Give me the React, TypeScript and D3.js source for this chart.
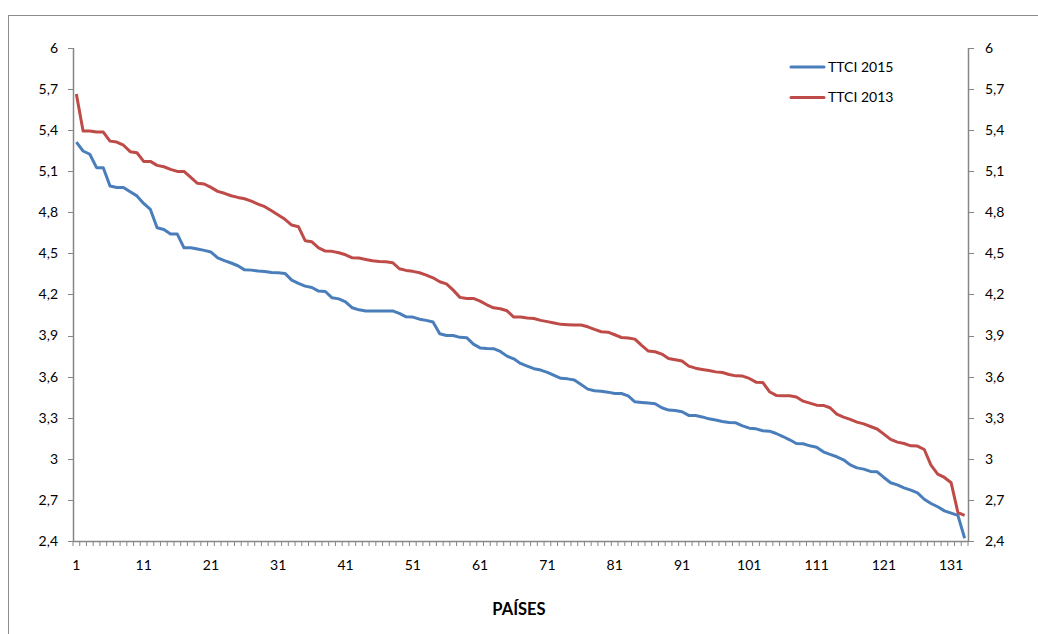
import React from "react";
import * as d3 from "d3";

const ttci2015: number[] = [
  5.313, 5.248, 5.224, 5.126, 5.126, 4.992, 4.982, 4.982, 4.95, 4.92,
  4.865, 4.821, 4.687, 4.675, 4.641, 4.641, 4.541, 4.541, 4.532, 4.522,
  4.51, 4.468, 4.448, 4.43, 4.41, 4.38, 4.378, 4.371, 4.368, 4.361,
  4.358, 4.354, 4.305, 4.281, 4.261, 4.251, 4.225, 4.222, 4.176, 4.168,
  4.147, 4.103, 4.088, 4.079, 4.079, 4.079, 4.08, 4.08, 4.062, 4.037,
  4.035, 4.02, 4.011, 3.999, 3.913, 3.901, 3.901, 3.887, 3.885, 3.838,
  3.81, 3.806, 3.804, 3.784, 3.75, 3.73, 3.697, 3.677, 3.658, 3.648,
  3.631, 3.609, 3.588, 3.584, 3.575, 3.543, 3.509, 3.497, 3.494, 3.487,
  3.477, 3.477, 3.46, 3.416, 3.411, 3.407, 3.402, 3.373, 3.356, 3.353,
  3.344, 3.317, 3.317, 3.306, 3.292, 3.283, 3.273, 3.266, 3.263, 3.241,
  3.224, 3.219, 3.205, 3.202, 3.185, 3.163, 3.139, 3.112, 3.11, 3.095,
  3.085, 3.051, 3.032, 3.015, 2.993, 2.956, 2.934, 2.925, 2.908, 2.905,
  2.864, 2.825, 2.81, 2.788, 2.771, 2.752, 2.705, 2.674, 2.65, 2.62,
  2.603, 2.587, 2.42,
];

const ttci2013: number[] = [
  5.664, 5.394, 5.394, 5.386, 5.386, 5.32, 5.313, 5.29, 5.243, 5.235,
  5.172, 5.172, 5.143, 5.133, 5.114, 5.099, 5.099, 5.055, 5.012, 5.007,
  4.982, 4.953, 4.939, 4.921, 4.909, 4.899, 4.882, 4.86, 4.841, 4.811,
  4.78, 4.749, 4.707, 4.695, 4.593, 4.585, 4.541, 4.517, 4.515, 4.505,
  4.49, 4.468, 4.466, 4.456, 4.446, 4.441, 4.439, 4.432, 4.388, 4.376,
  4.369, 4.359, 4.342, 4.322, 4.293, 4.278, 4.232, 4.179, 4.171, 4.171,
  4.152, 4.125, 4.103, 4.096, 4.081, 4.035, 4.035, 4.028, 4.025, 4.011,
  4.002, 3.992, 3.982, 3.98, 3.977, 3.977, 3.964, 3.945, 3.928, 3.925,
  3.906, 3.886, 3.882, 3.874, 3.828, 3.787, 3.782, 3.765, 3.733, 3.723,
  3.714, 3.677, 3.662, 3.653, 3.645, 3.635, 3.63, 3.616, 3.606, 3.604,
  3.587, 3.56, 3.558, 3.49, 3.463, 3.46, 3.46, 3.451, 3.421, 3.407,
  3.392, 3.39, 3.373, 3.326, 3.305, 3.288, 3.268, 3.255, 3.236, 3.218,
  3.18, 3.142, 3.122, 3.112, 3.095, 3.093, 3.068, 2.954, 2.888, 2.864,
  2.825, 2.608, 2.587,
];

const yTicks: number[] = [2.4, 2.7, 3, 3.3, 3.6, 3.9, 4.2, 4.5, 4.8, 5.1, 5.4, 5.7, 6];
const xTickLabels: number[] = [1, 11, 21, 31, 41, 51, 61, 71, 81, 91, 101, 111, 121, 131];
const seriesNames: string[] = ["TTCI 2015", "TTCI 2013"];
const colors: string[] = ["#4A7EBB", "#BE4B48"];

const W = 1038;
const H = 634;
const left = 73;
const right = 968;
const top = 48;
const bottom = 541;
const font = "Lato, 'Open Sans', sans-serif";

export default function App() {
  const n = ttci2015.length;
  const x = d3.scaleLinear().domain([0.5, n + 0.5]).range([left, right]);
  const y = d3.scaleLinear().domain([2.4, 6]).range([bottom, top]);
  const line = d3
    .line<number>()
    .x((_, i) => x(i + 1))
    .y((d) => y(d))
    .curve(d3.curveLinear);
  const idx = d3.range(0, n + 1);
  const axisColor = "#868686";
  const series = [ttci2015, ttci2013];
  const fmt = (v: number) => String(Math.round(v * 10) / 10).replace(".", ",");

  return (
    <svg
      width={W}
      height={H}
      style={{ position: "absolute", left: 0, top: 0, background: "#fff" }}
    >
      <rect x={8.5} y={15.5} width={W + 20} height={H + 20} fill="#fff" stroke="#8c8c8c" strokeWidth={1} />

      <line x1={left + 0.5} x2={left + 0.5} y1={top} y2={bottom} stroke={axisColor} strokeWidth={1.5} />
      <line x1={right + 0.5} x2={right + 0.5} y1={top} y2={bottom} stroke={axisColor} strokeWidth={1.5} />
      <line x1={left} x2={right + 1} y1={bottom + 0.5} y2={bottom + 0.5} stroke={axisColor} strokeWidth={1.5} />

      {yTicks.map((t) => (
        <g key={"y" + t}>
          <line x1={left - 5} x2={left} y1={Math.round(y(t)) + 0.5} y2={Math.round(y(t)) + 0.5} stroke={axisColor} strokeWidth={1} />
          <line x1={right + 1} x2={right + 6} y1={Math.round(y(t)) + 0.5} y2={Math.round(y(t)) + 0.5} stroke={axisColor} strokeWidth={1} />
          <text x={left - 15} y={y(t)} dy="0.35em" textAnchor="end" fontFamily={font} fontSize={14} fill="#000">
            {fmt(t)}
          </text>
          <text x={right + 17} y={y(t)} dy="0.35em" textAnchor="start" fontFamily={font} fontSize={14} fill="#000">
            {fmt(t)}
          </text>
        </g>
      ))}

      {idx.map((i) => (
        <line
          key={"xt" + i}
          x1={x(i + 0.5)}
          x2={x(i + 0.5)}
          y1={bottom}
          y2={bottom + 5}
          stroke={axisColor}
          strokeWidth={1}
        />
      ))}

      {xTickLabels.map((v) => (
        <text key={"xl" + v} x={x(v)} y={565} dy="0.35em" textAnchor="middle" fontFamily={font} fontSize={14} fill="#000">
          {v}
        </text>
      ))}

      {series.map((s, k) => (
        <path key={"s" + k} d={line(s) || ""} fill="none" stroke={colors[k]} strokeWidth={3} strokeLinejoin="round" />
      ))}

      {seriesNames.map((name, k) => (
        <g key={"lg" + k}>
          <line x1={791} x2={824} y1={67 + k * 30.5} y2={67 + k * 30.5} stroke={colors[k]} strokeWidth={3} strokeLinecap="round" />
          <text x={828} y={67 + k * 30.5} dy="0.35em" fontFamily={font} fontSize={14} fill="#000">
            {name}
          </text>
        </g>
      ))}

      <text x={519} y={609} dy="0.35em" textAnchor="middle" fontFamily={font} fontSize={16.5} fontWeight="bold" fill="#000">
        PAÍSES
      </text>
    </svg>
  );
}
